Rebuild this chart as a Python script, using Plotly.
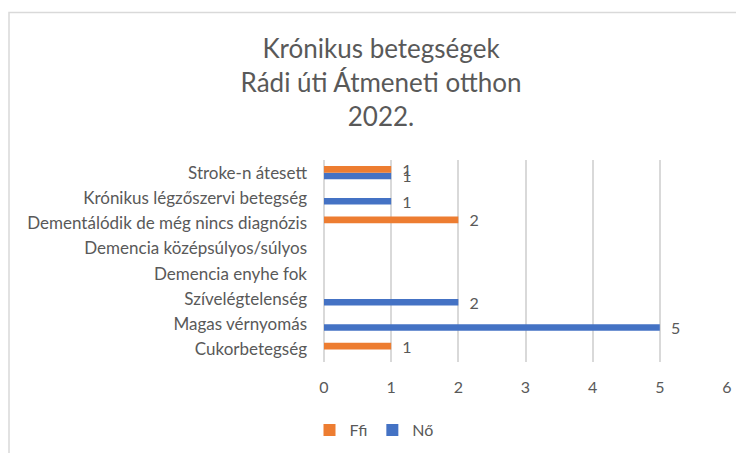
import plotly.graph_objects as go

categories = [
    "Cukorbetegség",
    "Magas vérnyomás",
    "Szívelégtelenség",
    "Demencia enyhe fok",
    "Demencia középsúlyos/súlyos",
    "Dementálódik de még nincs diagnózis",
    "Krónikus légzőszervi betegség",
    "Stroke-n átesett",
]
no_values = [0, 5, 2, 0, 0, 0, 1, 1]
ffi_values = [1, 0, 0, 0, 0, 2, 0, 1]
x_ticks = [0, 1, 2, 3, 4, 5, 6]

title_text = "Krónikus betegségek<br>Rádi úti Átmeneti otthon<br>2022."

FONT = "Lato"
GRAY = "#595959"
GRID = "#d9d9d9"
PAD = "\u00a0\u00a0"


def labels(vals):
    return [f"{PAD}{v}" if v else "" for v in vals]


fig = go.Figure()
fig.add_trace(go.Bar(
    name="Nő", y=categories, x=no_values, orientation="h",
    marker=dict(color="#4472C4", line=dict(width=0)),
    text=labels(no_values), textposition="outside", constraintext="none",
    cliponaxis=False,
    textfont=dict(family=FONT, size=16, color=GRAY),
))
fig.add_trace(go.Bar(
    name="Ffi", y=categories, x=ffi_values, orientation="h",
    marker=dict(color="#ED7D31", line=dict(width=0)),
    text=labels(ffi_values), textposition="outside", constraintext="none",
    cliponaxis=False,
    textfont=dict(family=FONT, size=16, color=GRAY),
))

# page body has an 8px offset; figure coords = screen - 8
W, H = 736, 445
L, T = 316, 152
pw, ph = 403, 202
R, B = W - L - pw, H - T - ph

fig.update_layout(
    width=W, height=H,
    margin=dict(l=L, r=R, t=T, b=B, autoexpand=False),
    paper_bgcolor="white", plot_bgcolor="white",
    barmode="group", bargap=0.48, bargroupgap=0,
    font=dict(family=FONT, color=GRAY, size=16),
    title=dict(text=title_text, x=373 / W, xref="container", xanchor="center",
               y=1 - 50 / H, yref="container", yanchor="middle",
               font=dict(family=FONT, size=26, color=GRAY)),
    showlegend=True,
    legend=dict(orientation="h", traceorder="reversed",
                x=366 / W, xref="container", xanchor="center",
                y=1 - 422 / H, yref="container", yanchor="middle",
                font=dict(family=FONT, size=16, color=GRAY),
                itemwidth=30),
    xaxis=dict(range=[0, 6], tickvals=x_ticks, showgrid=True, gridcolor=GRID,
               gridwidth=1.5, zeroline=True, zerolinecolor=GRID, zerolinewidth=1.5,
               showline=False, ticks="", tickfont=dict(size=16, color=GRAY),
               ticklabelstandoff=14, fixedrange=True),
    yaxis=dict(categoryorder="array", categoryarray=categories,
               showgrid=False, zeroline=False, showline=False, ticks="",
               tickfont=dict(size=17, color=GRAY), ticklabelstandoff=16,
               fixedrange=True),
    shapes=[dict(type="rect", xref="paper", yref="paper",
                 x0=(1 - L) / pw, x1=(W + 20 - L) / pw,
                 y0=-(B + 20) / ph, y1=(T + ph - 4.5) / ph,
                 line=dict(color=GRID, width=1.5), fillcolor="rgba(0,0,0,0)",
                 layer="below")],
)

fig.write_html("out.html")
